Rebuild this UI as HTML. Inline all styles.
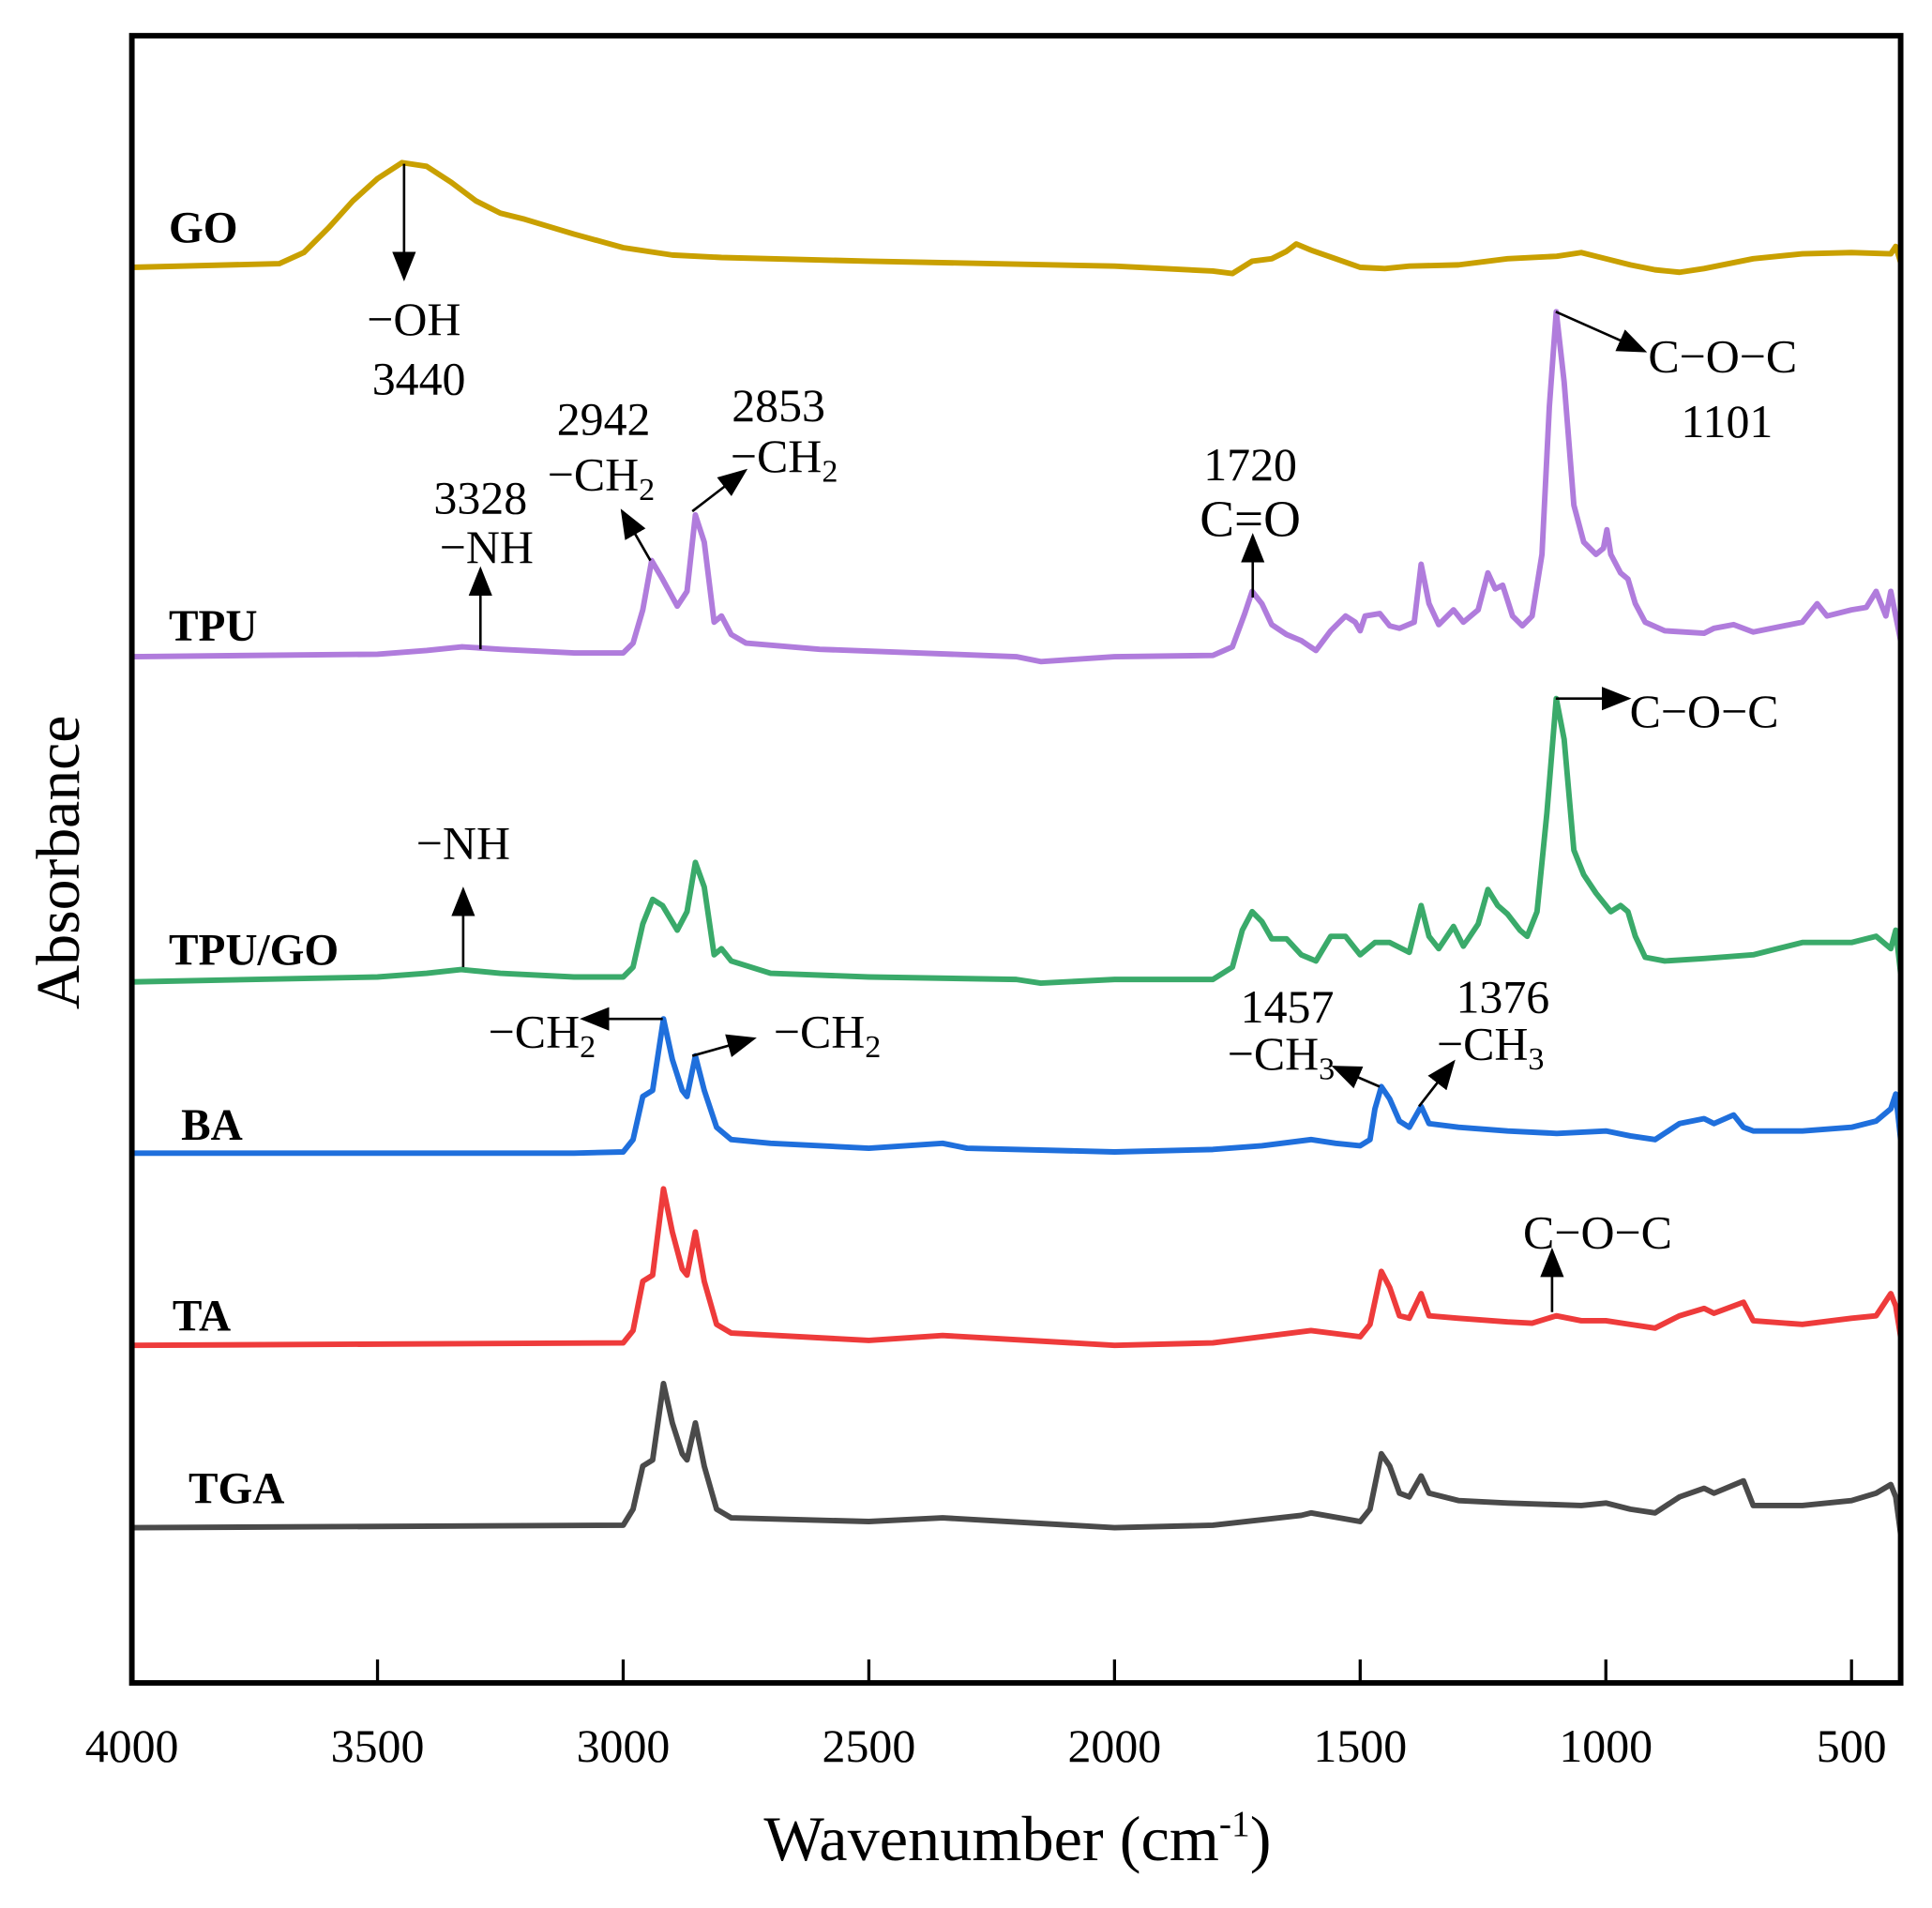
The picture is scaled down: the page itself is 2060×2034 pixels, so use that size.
<!DOCTYPE html>
<html><head><meta charset="utf-8"><style>
html,body{margin:0;padding:0;background:#fff;}
svg{display:block;font-family:"Liberation Serif","Noto Serif CJK SC",serif;}
</style></head><body>
<svg id="chart" width="2060" height="2034" viewBox="0 0 1568.4 1548.7" xmlns="http://www.w3.org/2000/svg">
<g id="plot"></g>
<g id="ann" font-size="38" fill="#000">
</g>
</svg>
<script>
// Chart data (wavenumber cm-1, absorbance a.u. with vertical offset)
const ticksX = [4000,3500,3000,2500,2000,1500,1000,500];
const goX = [4000,3700,3650,3600,3550,3500,3450,3400,3350,3300,3250,3200,3100,3000,2900,2800,2500,2000,1800,1760,1720,1680,1650,1630,1600,1550,1500,1450,1400,1300,1200,1100,1050,1000,950,900,850,800,700,600,500,420,410,400];
const goY = [1149,1152,1161,1181,1203,1221,1234,1231,1218,1203,1193,1188,1176,1165,1159,1157,1154,1150,1146,1144,1154,1156,1162,1168,1163,1156,1149,1148,1150,1151,1156,1158,1161,1156,1151,1147,1145,1148,1156,1160,1161,1160,1166,1153];
const tpuX = [4000,3500,3400,3328,3250,3100,3000,2980,2960,2942,2920,2890,2870,2853,2835,2815,2800,2780,2750,2600,2400,2200,2150,2000,1800,1760,1735,1720,1700,1680,1650,1620,1590,1560,1530,1510,1500,1490,1460,1440,1420,1390,1376,1360,1340,1310,1290,1260,1240,1225,1210,1190,1170,1150,1130,1115,1101,1085,1065,1045,1020,1005,998,990,970,955,940,920,880,800,780,740,700,600,570,550,500,470,450,430,420,410,400];
const tpuY = [833,835,838,841,839,836,836,844,871,911,896,874,886,948,926,861,866,851,844,839,836,833,829,833,834,841,868,886,876,859,851,846,838,854,866,861,854,866,868,858,856,861,908,876,859,871,861,871,901,888,891,866,858,866,916,1036,1113,1056,956,926,916,921,936,916,901,896,876,861,854,852,856,859,853,861,876,866,871,873,886,866,886,866,846];
const tpugoX = [4000,3500,3400,3330,3250,3100,3000,2980,2960,2940,2920,2890,2870,2853,2835,2815,2800,2780,2700,2500,2200,2150,2000,1800,1760,1740,1720,1700,1680,1650,1620,1590,1560,1530,1510,1500,1470,1440,1400,1376,1360,1340,1310,1290,1260,1240,1220,1200,1175,1160,1140,1120,1101,1085,1065,1045,1020,990,970,955,940,920,880,800,700,650,600,500,450,420,410,400];
const tpugoY = [569,573,576,579,576,573,573,581,616,636,631,611,626,666,646,591,596,586,576,573,571,568,571,571,581,611,626,618,604,604,591,586,606,606,596,591,601,601,593,631,606,596,614,598,616,644,631,624,611,606,626,706,799,766,676,656,641,626,631,626,606,589,586,588,591,596,601,601,606,596,611,576];
const baX = [4000,3100,3000,2980,2960,2940,2918,2900,2880,2870,2853,2835,2810,2780,2700,2500,2350,2300,2000,1800,1700,1600,1550,1500,1480,1470,1457,1440,1420,1400,1376,1360,1300,1200,1100,1000,950,900,850,800,780,740,720,700,600,500,450,420,410,400];
const baY = [430,430,431,441,476,481,539,506,481,476,509,481,451,441,438,434,438,434,431,433,436,441,438,436,441,466,484,474,456,451,468,454,451,448,446,448,444,441,454,458,454,461,451,448,448,451,456,466,478,441];
const taX = [4000,3000,2980,2960,2940,2918,2900,2880,2870,2853,2835,2810,2780,2500,2350,2000,1800,1600,1500,1480,1457,1440,1420,1400,1376,1360,1300,1200,1150,1101,1050,1000,950,900,850,800,780,720,700,600,500,450,420,410,400];
const taY = [274,276,286,326,331,401,366,336,331,366,326,291,284,278,282,274,276,286,281,291,334,321,298,296,316,298,296,293,292,298,294,294,291,288,298,304,300,309,294,291,296,298,316,306,281];
const tgaX = [4000,3000,2980,2960,2940,2918,2900,2880,2870,2853,2835,2810,2780,2500,2350,2000,1800,1620,1600,1500,1480,1457,1440,1420,1400,1376,1360,1300,1200,1050,1000,950,900,850,800,780,720,700,600,500,450,420,410,400];
const tgaY = [126,128,141,176,181,243,211,186,181,211,176,141,134,131,134,126,128,136,138,131,141,186,176,154,151,168,154,148,146,144,146,141,138,151,158,154,164,144,144,148,154,161,151,121];

const NS = "http://www.w3.org/2000/svg";
const L = 107, R = 1543, T = 29, B = 1366;
const xS = w => L + (4000 - w) * (R - L) / 3600;
const yS = a => B - a * (B - T) / 1337;
const plot = document.getElementById('plot');
function mk(tag, attrs, parent) {
  const e = document.createElementNS(NS, tag);
  for (const k in attrs) e.setAttribute(k, attrs[k]);
  parent.appendChild(e);
  return e;
}
const series = [
  ['go', goX, goY, '#c9a000'],
  ['tpu', tpuX, tpuY, '#b07cdc'],
  ['tpu-go', tpugoX, tpugoY, '#3aaa6a'],
  ['ba', baX, baY, '#1f6fdc'],
  ['ta', taX, taY, '#ee3b3b'],
  ['tga', tgaX, tgaY, '#4a4a4a']
];
series.forEach(s => {
  const pts = s[1].map((w, i) => xS(w).toFixed(1) + ',' + yS(s[2][i]).toFixed(1)).join(' ');
  const pl = mk('polyline', {points: pts, fill: 'none', stroke: s[3], 'stroke-width': 4.5, 'stroke-linejoin': 'round'}, plot);
  
  
});
const fr = mk('rect', {x: L, y: T, width: R - L, height: B - T, fill: 'none', stroke: '#000', 'stroke-width': 4.5}, plot);


ticksX.forEach(t => {
  const x = xS(t);
  const tk = mk('line', {x1: x, x2: x, y1: B, y2: B - 19, stroke: '#000', 'stroke-width': 2.5}, plot);
  
  
  const lb = mk('text', {x: x, y: 1430, 'text-anchor': 'middle', 'font-size': 38}, plot);
  lb.textContent = t;
  
  
});
</script>
<script>
(function(){
const NS = "http://www.w3.org/2000/svg";
const svg = document.getElementById('chart');
const ann = document.getElementById('ann');
const defs = document.createElementNS(NS,'defs');
defs.innerHTML = '<marker id="ah" markerWidth="24" markerHeight="20" refX="9" refY="4" orient="auto" markerUnits="userSpaceOnUse" viewBox="0 0 10 8"><path d="M0,0 L10,4 L0,8 z" fill="#000"/></marker>';
svg.insertBefore(defs, svg.firstChild);
function arrow(x1,y1,x2,y2,name){
  const l = document.createElementNS(NS,'line');
  l.setAttribute('x1',x1);l.setAttribute('y1',y1);l.setAttribute('x2',x2);l.setAttribute('y2',y2);
  l.setAttribute('stroke','#000');l.setAttribute('stroke-width','2');l.setAttribute('marker-end','url(#ah)');
  
  
  ann.appendChild(l);
}
function txt(x,y,html,anchor,name,size,bold){
  const t = document.createElementNS(NS,'text');
  t.setAttribute('x',x);t.setAttribute('y',y);t.setAttribute('text-anchor',anchor||'middle');
  if(size) t.setAttribute('font-size',size);
  if(bold) t.setAttribute('font-weight','bold');
  t.innerHTML = html;
  
  
  ann.appendChild(t);
}
const sub = n => '<tspan font-size="26" dy="8">'+n+'</tspan>';
txt(137,197,'GO','start','label-go',36,true);
txt(137,520,'TPU','start','label-tpu',36,true);
txt(137,783,'TPU/GO','start','label-tpu-go',36,true);
txt(147,925,'BA','start','label-ba',36,true);
txt(140,1080,'TA','start','label-ta',36,true);
txt(153,1220,'TGA','start','label-tga',36,true);
arrow(328,133,328,226,'arrow-oh');
txt(336,272,'−OH','middle','annot-oh');
txt(340,320,'3440','middle','annot-3440');
arrow(390,527,390,462,'arrow-nh-tpu');
txt(395,457,'−NH','middle','annot-nh-tpu');
txt(390,417,'3328','middle','annot-3328');
arrow(528,455,505,415,'arrow-2942');
txt(488,398,'−CH'+sub(2),'middle','annot-ch2-2942');
txt(490,353,'2942','middle','annot-2942');
arrow(562,415,605,382,'arrow-2853');
txt(593,383,'−CH'+sub(2),'start','annot-ch2-2853');
txt(632,342,'2853','middle','annot-2853');
arrow(1017,485,1017,435,'arrow-1720');
txt(1015,435,'C=O','middle','annot-co',42);
txt(1015,390,'1720','middle','annot-1720');
arrow(1263,253,1335,285,'arrow-1101');
txt(1338,302,'C−O−C','start','annot-coc-tpu');
txt(1402,355,'1101','middle','annot-1101');
arrow(1263,567,1322,567,'arrow-coc-tpugo');
txt(1323,590,'C−O−C','start','annot-coc-tpugo');
arrow(376,785,376,722,'arrow-nh-tpugo');
txt(376,697,'−NH','middle','annot-nh-tpugo');
arrow(538,827,473,827,'arrow-ba-ch2-a');
txt(440,850,'−CH'+sub(2),'middle','annot-ba-ch2-a');
arrow(562,857,612,843,'arrow-ba-ch2-b');
txt(628,850,'−CH'+sub(2),'start','annot-ba-ch2-b');
txt(1045,830,'1457','middle','annot-1457');
txt(1040,868,'−CH'+sub(3),'middle','annot-ch3-1457');
arrow(1120,882,1083,866,'arrow-1457');
txt(1220,822,'1376','middle','annot-1376');
txt(1210,860,'−CH'+sub(3),'middle','annot-ch3-1376');
arrow(1152,898,1180,862,'arrow-1376');
arrow(1260,1065,1260,1015,'arrow-coc-ta');
txt(1297,1013,'C−O−C','middle','annot-coc-ta');
txt(826,1510,'Wavenumber (cm<tspan font-size="30" dy="-20">-1</tspan><tspan dy="20">)</tspan>','middle','x-axis-title',52);
const yt = document.createElementNS(NS,'text');
yt.setAttribute('transform','translate(64,700) rotate(-90)');
yt.setAttribute('text-anchor','middle');yt.setAttribute('font-size','50');
yt.textContent='Absorbance';


ann.appendChild(yt);
})();
</script>
</body></html>
